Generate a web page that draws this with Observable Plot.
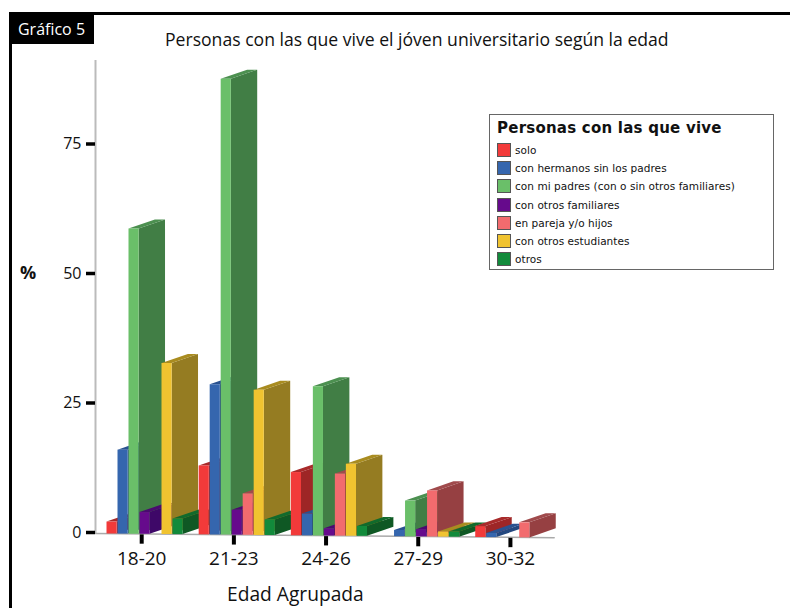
<!DOCTYPE html>
<html lang="es">
<head>
<meta charset="utf-8">
<script src="https://cdn.jsdelivr.net/npm/d3@7"></script>
<script src="https://cdn.jsdelivr.net/npm/@observablehq/plot@0.6"></script>
<style>
  html, body { margin: 0; padding: 0; background: #fff; }
  #page { position: relative; width: 790px; height: 608px; overflow: hidden; font-family: "Open Sans", sans-serif; color: #111; }
  #page svg { position: absolute; left: 0; top: 0; }
  .frameTop { position: absolute; left: 9px; top: 12px; width: 781px; height: 3px; background: #000; }
  .frameLeft { position: absolute; left: 9px; top: 12px; width: 3px; height: 596px; background: #000; }
  .badge { position: absolute; left: 10px; top: 14px; width: 84px; height: 30px; background: #000; color: #fff; font-size: 16px; line-height: 30px; text-align: center; text-indent: -1px; }
  .title { position: absolute; left: 165px; top: 27px; font-size: 17.6px; line-height: 24px; white-space: nowrap; }
  .ylab { position: absolute; left: 20px; top: 260px; font-size: 18px; line-height: 24px; font-weight: 700; }
  .xlab { position: absolute; left: 227px; top: 582px; font-size: 19.2px; line-height: 24px; white-space: nowrap; }
  .legend { position: absolute; left: 489px; top: 114px; width: 285px; height: 156px; box-sizing: border-box; border: 1.5px solid #666; background: #fff; font-family: "DejaVu Sans", sans-serif; }
  .legend .lt { position: absolute; left: 7px; top: 3px; font-size: 15px; line-height: 20px; font-weight: 700; white-space: nowrap; letter-spacing: 0.23px; }
  .legend .row { position: absolute; left: 7px; height: 14px; white-space: nowrap; font-size: 10.5px; line-height: 14px; letter-spacing: 0.05px; }
  .legend .sw { display: inline-block; width: 12px; height: 12px; border: 1px solid #555; vertical-align: top; margin-right: 4px; }
</style>
</head>
<body>
<div id="page"></div>
<script>
const groups = ["18-20", "21-23", "24-26", "27-29", "30-32"];
const seriesNames = [
  "solo",
  "con hermanos sin los padres",
  "con mi padres (con o sin otros familiares)",
  "con otros familiares",
  "en pareja y/o hijos",
  "con otros estudiantes",
  "otros"
];
const solo       = [2.3, 13.3, 12.2, null, 2.1];
const hermanos   = [16.2, 29, 4.2, 1.2, 0.8];
const padres     = [58.9, 88, 28.8, 6.9, null];
const familiares = [4.2, 4.8, 1.4, 1.4, null];
const pareja     = [null, 8, 12, 8.9, 2.9];
const estudiantes= [33, 28, 13.9, 1, null];
const otros      = [3, 3, 1.9, 1, null];
const seriesValues = [solo, hermanos, padres, familiares, pareja, estudiantes, otros];

const frontColors = ["#F23A3A", "#3566AE", "#6ABF69", "#660A8C", "#F26B6E", "#F0C330", "#128A3B"];
const sideColors  = ["#9E2626", "#24487F", "#417E45", "#3E0868", "#964042", "#957C22", "#0F5824"];
const topColors   = ["#A82A2A", "#2A5290", "#4C9050", "#4A0A70", "#A04A4C", "#A98C20", "#116A2C"];

// Chart geometry, in x slots and y percent
const groupStride = 8.38;   // slots between two age groups
const barWidth = 0.92;      // width of a bar's front face, in slots
const depthX = 2.4;         // oblique depth of a bar, in slots
const depthY = 1.75;        // oblique rise of a bar, in percent
const tilt = 0.02;          // the floor drops slightly to the right
const floor = (x) => -tilt * x;

const faces = [];
groups.forEach((g, gi) => {
  seriesValues.forEach((vals, si) => {
    const v = vals[gi];
    if (v == null) return;
    const x0 = gi * groupStride + si, x1 = x0 + barWidth;
    const b = floor(x0), t = b + v;
    const id = `${gi}-${si}`;
    const push = (face, fill, pts) => pts.forEach(([x, y]) => faces.push({z: id + face, fill, x, y}));
    push("s", sideColors[si], [[x1, b], [x1 + depthX, b + depthY], [x1 + depthX, t + depthY], [x1, t]]);
    push("t", topColors[si], [[x0, t], [x1, t], [x1 + depthX, t + depthY], [x0 + depthX, t + depthY]]);
    push("f", frontColors[si], [[x0, b], [x1, b], [x1, t], [x0, t]]);
  });
});

const tickSlots = groups.map((g, i) => 3.2 + i * groupStride);
const floorLine = [-1.0, 40.7].map((x) => ({x, y: floor(x)}));

const chart = Plot.plot({
  width: 790,
  height: 608,
  marginLeft: 95,
  marginRight: 20,
  marginTop: 60,
  marginBottom: 60,
  style: {fontFamily: '"Open Sans", sans-serif', background: "transparent", color: "#111"},
  x: {type: "linear", domain: [0, 7], range: [106, 183], axis: null},
  y: {type: "linear", domain: [0, 75], range: [533, 144.5], axis: null},
  color: {type: "identity"},
  marks: [
    Plot.ruleX([-1], {y1: 0, y2: 91.3, stroke: "#bbb", strokeWidth: 2}),
    Plot.line(floorLine, {x: "x", y: "y", stroke: "#aaa", strokeWidth: 1.5}),
    Plot.line(faces, {x: "x", y: "y", z: "z", fill: "fill", stroke: "none"}),
    Plot.axisY([0, 25, 50, 75], {
      anchor: "left", tickSize: 9, tickPadding: 5, strokeWidth: 3.5, stroke: "#000",
      fontSize: 16, label: null, fill: "#111", textStroke: "none", dy: -1
    }),
    Plot.ruleX(tickSlots, {
      x: (d) => d, y1: (d) => floor(d) - 0.2, y2: (d) => floor(d) - 2, stroke: "#000", strokeWidth: 4
    }),
    Plot.axisX(tickSlots, {
      anchor: "bottom", tickSize: 0, tickPadding: 3, fontSize: 19, label: null, fill: "#111",
      tickFormat: (d, i) => groups[tickSlots.indexOf(d)]
    })
  ]
});

const page = document.getElementById("page");
page.appendChild(chart);

function addDiv(cls, text) {
  const el = document.createElement("div");
  el.className = cls;
  if (text) el.textContent = text;
  page.appendChild(el);
  return el;
}
addDiv("frameTop");
addDiv("frameLeft");
addDiv("badge", "Gráfico 5");
addDiv("title", "Personas con las que vive el jóven universitario según la edad");
addDiv("ylab", "%");
addDiv("xlab", "Edad Agrupada");

const legend = addDiv("legend");
const lt = document.createElement("div");
lt.className = "lt";
lt.textContent = "Personas con las que vive";
legend.appendChild(lt);
seriesNames.forEach((name, i) => {
  const row = document.createElement("div");
  row.className = "row";
  row.style.top = `${28 + i * 18.2}px`;
  const sw = document.createElement("span");
  sw.className = "sw";
  sw.style.background = frontColors[i];
  row.appendChild(sw);
  row.appendChild(document.createTextNode(name));
  legend.appendChild(row);
});
</script>
</body>
</html>
